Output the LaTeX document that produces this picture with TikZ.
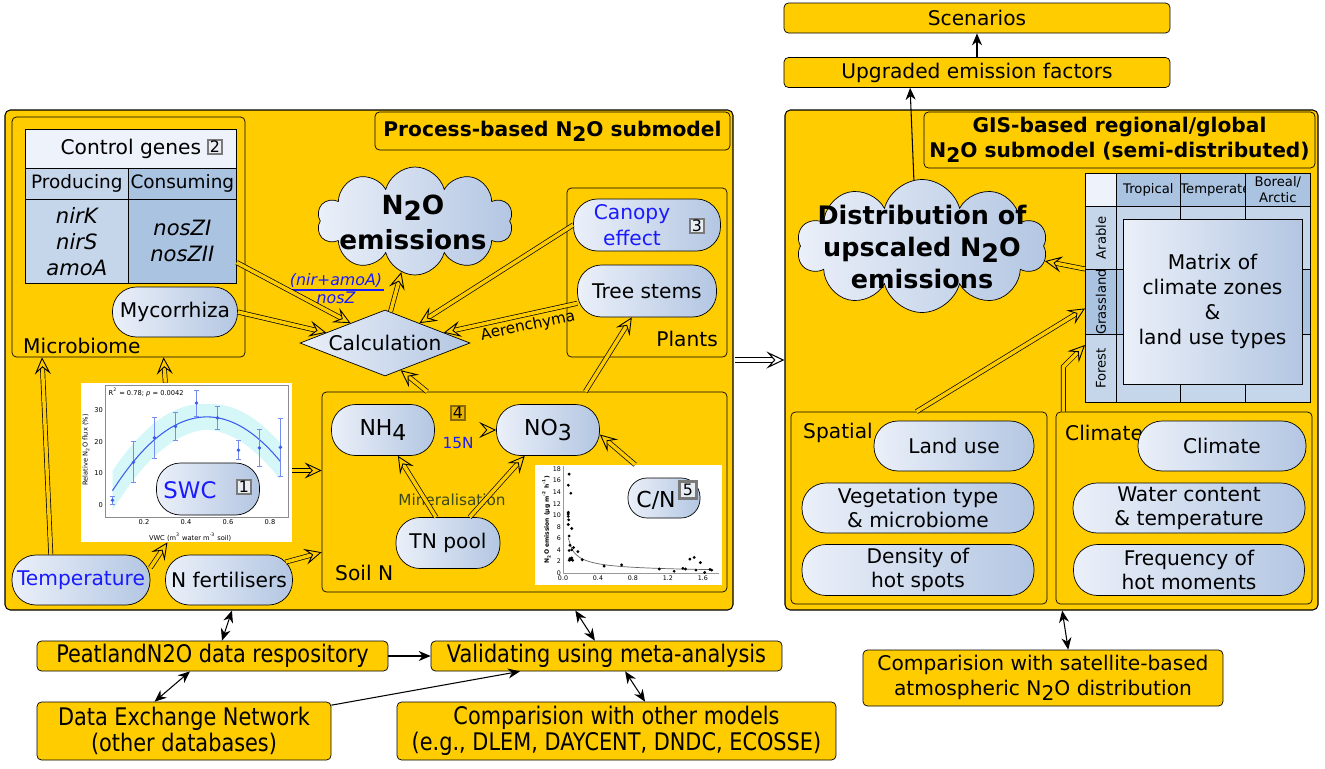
\documentclass[tikz,border=0pt]{standalone}
\usepackage{fontspec}
\setmainfont{DejaVu Sans}
\newfontfamily\condfont[FakeStretch=0.86]{DejaVu Sans}
\usepackage{tikz}
\usetikzlibrary{arrows.meta,positioning,calc,fit,shapes.misc,shapes.geometric,shapes.symbols}

\definecolor{panelyellow}{HTML}{FFCC00}
\definecolor{pilllight}{HTML}{EBF0F9}
\definecolor{pilldark}{HTML}{B3C6E2}
\definecolor{celllight}{HTML}{C5D6EB}
\definecolor{celldark}{HTML}{A9C3E0}
\definecolor{cellpale}{HTML}{EEF3FB}
\definecolor{labelblue}{HTML}{1A1AFF}
\definecolor{badgegrey}{HTML}{7A7A7A}
\definecolor{badgefill}{HTML}{E8EDF4}
\definecolor{badgegold}{HTML}{8A6A10}
\definecolor{badgeyellow}{HTML}{E8B400}
\definecolor{plotblue}{HTML}{3B5BEE}
\definecolor{plotband}{HTML}{D6F7F7}
\definecolor{mineralgreen}{HTML}{3A4A1A}

\newcommand{\lowsub}[1]{\raisebox{-0.45ex}{#1}}
\newcommand{\fsz}[2]{\fontsize{#1}{#2}\selectfont}

\begin{document}
\begin{tikzpicture}[
  x=0.02cm,y=-0.02cm,
  every node/.style={font=\fsz{11.5}{13.6}},
  panel/.style={draw,fill=panelyellow,rounded corners=3pt,inner sep=0pt,semithick},
  framebox/.style={draw,fill=panelyellow,rounded corners=2.5pt,inner sep=0pt},
  topbox/.style={draw,fill=panelyellow,rounded corners=2.5pt,inner sep=0pt,
                 minimum width=7.72cm,minimum height=0.6cm},
  bottombox/.style={draw,fill=panelyellow,rounded corners=2.5pt,inner sep=0pt,
                    align=center,font=\condfont\fsz{13.8}{15}},
  pill/.style={draw,rectangle,rounded corners=0.48cm,left color=pilllight,
               right color=pilldark,minimum height=1cm,inner sep=1pt,align=center},
  puff/.style={draw,cloud,cloud puffs=10,cloud ignores aspect,left color=pilllight,
               right color=pilldark,inner sep=0pt},
  cell/.style={draw,inner sep=0pt,anchor=north west,align=center},
  badge/.style={draw=badgegrey,line width=1.3pt,fill=badgefill,inner sep=0pt,
                minimum size=0.27cm,font=\fsz{9}{10}},
  smalltext/.style={font=\fsz{8.7}{10},inner sep=1pt},
  flow/.style={double=panelyellow,double distance=2pt,thin,
               -{Stealth[length=3.4mm,width=3.2mm,inset=1.4mm,fill=panelyellow,line width=0.5pt]}},
  whiteflow/.style={double=white,double distance=2.2pt,line width=0.6pt,
               -{Stealth[length=3.6mm,width=3.4mm,inset=1.5mm,fill=white,line width=0.6pt]}},
  link/.style={semithick,-{Stealth[length=2.4mm,width=2mm]}},
  twolink/.style={semithick,{Stealth[length=2.4mm,width=2mm]}-{Stealth[length=2.4mm,width=2mm]}}
]
\useasboundingbox (0,0) rectangle (1325,768);

% Top: outputs
\node[topbox] (scenarios) at (977,18) {Scenarios};
\node[topbox] (upgraded) at (977,72.5) {Upgraded emission factors};

% Left panel: process-based submodel
\node[panel,fit={(5,110) (733,610)}] (procbox) {};
\node[framebox,minimum width=7.1cm,minimum height=0.76cm,font=\bfseries\fsz{11.5}{13.6}]
  (proctitle) at (552.5,131) {Process-based N\lowsub{2}O submodel};

% Microbiome and control genes
\node[framebox,fit={(12,117) (245,357)}] (microbox) {};
\node[anchor=west] (microlabel) at (17,346) {Microbiome};
\node[cell,fill=cellpale,minimum width=4.22cm,minimum height=0.78cm] (genehead) at (25,129) {Control genes};
\node[badge] (badgetwo) at (215,147) {2};
\node[cell,fill=celllight,minimum width=2.06cm,minimum height=0.62cm,font=\fsz{10.5}{12}]
  (producehead) at (25,168) {Producing};
\node[cell,fill=celldark,minimum width=2.16cm,minimum height=0.62cm,font=\fsz{10.5}{12}]
  (consumehead) at (128,168) {Consuming};
\node[cell,fill=celllight,minimum width=2.06cm,minimum height=1.68cm,font=\itshape\fsz{12}{14.7}]
  (producecell) at (25,199) {nirK\\nirS\\amoA};
\node[cell,fill=celldark,minimum width=2.16cm,minimum height=1.68cm,font=\itshape\fsz{12}{14.7}]
  (consumecell) at (128,199) {nosZI\\nosZII};
\node[pill,minimum width=2.5cm] (myco) at (175,312) {Mycorrhiza};

% Emissions and calculation
\node[puff,minimum width=3.92cm,minimum height=2.16cm] (n2o) at (415,221) {};
\node[align=center,font=\bfseries\fsz{15}{20}] (n2otext) at (413,222) {N\lowsub{2}O\\emissions};
\node[draw,diamond,aspect=2.6,inner sep=0pt,left color=pilllight,right color=pilldark,
      minimum width=3.4cm,minimum height=1.32cm] (calculation) at (385,343) {Calculation};
\node[font=\itshape\fsz{9}{10},text=labelblue,inner sep=1pt] (rationum) at (336,281) {(nir+amoA)};
\node[font=\itshape\fsz{9}{10},text=labelblue,inner sep=1pt] (ratioden) at (336,298) {nosZ};
\draw[labelblue,thick] (rationum.south west) -- (rationum.south east);

% Plants
\node[framebox,fit={(567,188) (727,357)}] (plantsbox) {};
\node[anchor=east] (plantslabel) at (724,339) {Plants};
\node[pill,minimum width=2.94cm,minimum height=1.04cm] (canopy) at (647,225) {};
\node[align=center,text=labelblue,font=\fsz{11.5}{14.5}] (canopytext) at (632,225) {Canopy\\effect};
\node[badge] (badgethree) at (697,226) {3};
\node[pill,minimum width=2.78cm,minimum height=1.04cm] (treestems) at (647,291) {Tree stems};
\node[rotate=12,smalltext] (aerlabel) at (528,326) {Aerenchyma};

% SWC response curve
\node[fill=white,inner sep=0pt,fit={(81,383) (292,542)}] (swcplot) {};
\begin{scope}[shift={(102,505)},x=4.2cm,y=0.0634cm]
  \fill[plotband] plot[domain=0.05:0.85,samples=30,smooth]
      (\x,{27.8-115*(\x-0.5)*(\x-0.5)+4+5*abs(\x-0.5)})
    -- plot[domain=0.85:0.05,samples=30,smooth]
      (\x,{27.8-115*(\x-0.5)*(\x-0.5)-4-5*abs(\x-0.5)}) -- cycle;
  \draw[black!45,very thin] (0.014,-3.8) rectangle (0.886,37.9);
  \foreach \ty in {0,10,20,30}
    \node[anchor=east,font=\fsz{3.8}{4.5},inner sep=1pt] at (0.014,\ty) {\ty};
  \foreach \tx in {0.2,0.4,0.6,0.8}
    \node[anchor=north,font=\fsz{3.8}{4.5},inner sep=1.5pt] at (\tx,-3.8) {\tx};
  \draw[plotblue,semithick] plot[domain=0.05:0.85,samples=30,smooth]
      (\x,{27.8-115*(\x-0.5)*(\x-0.5)});
  \foreach \vx/\vy/\ve in {0.05/1.5/1.2,0.15/13.5/6.5,0.25/21.2/6.5,0.35/24.8/4.3,
      0.45/32.2/4.1,0.55/27.5/3.6,0.65/17.3/3,0.75/18/5.8,0.85/18.2/9}{
    \draw[plotblue!70] (\vx,\vy-\ve) -- (\vx,\vy+\ve)
      (\vx-0.012,\vy-\ve) -- (\vx+0.012,\vy-\ve)
      (\vx-0.012,\vy+\ve) -- (\vx+0.012,\vy+\ve);
    \fill[plotblue] (\vx,\vy) circle (1.1pt);
  }
  \node[anchor=west,font=\fsz{3.8}{4.5},inner sep=0pt] at (0.03,35.5)
    {R\textsuperscript{2} = 0.78; \textit{p} = 0.0042};
  \node[rotate=90,font=\fsz{3.8}{4.5}] at (-0.076,17.4) {Relative N\textsubscript{2}O flux (\%)};
  \node[font=\fsz{3.8}{4.5}] at (0.42,-10.1) {VWC (m\textsuperscript{3} water m\textsuperscript{-3} soil)};
\end{scope}
\node[pill,minimum width=2.06cm,minimum height=1.04cm] (swc) at (208,489) {};
\node[text=labelblue,font=\fsz{13}{15}] (swctext) at (190,490) {SWC};
\node[badge] (badgeone) at (244,487) {1};

% Drivers
\node[pill,minimum width=2.76cm,text=labelblue] (temperature) at (81,580) {Temperature};
\node[pill,minimum width=2.54cm] (nfert) at (229,580) {N fertilisers};

% Soil N
\node[framebox,fit={(322,392) (727,592)}] (soilbox) {};
\node[anchor=west] (soillabel) at (329,573) {Soil N};
\node[pill,minimum width=2.06cm,minimum height=1.02cm,font=\fsz{12.5}{14}] (nh4) at (383,430) {NH\lowsub{4}};
\node[pill,minimum width=2.06cm,minimum height=1.02cm,font=\fsz{12.5}{14}] (no3) at (548,430) {NO\lowsub{3}};
\node[badge,draw=badgegold,fill=badgeyellow] (badgefour) at (458,413) {4};
\node[smalltext,text=labelblue] (fifteenn) at (458,443) {15N};
\node[pill,minimum width=2.08cm,minimum height=1.02cm] (tnpool) at (448,543) {TN pool};
\node[smalltext,text=mineralgreen] (minerallabel) at (452,500) {Mineralisation};

% C/N scatter
\node[fill=white,inner sep=0pt,fit={(535,465) (722,585)}] (cnplot) {};
\begin{scope}[shift={(563,573)},x=1.75cm,y=0.1156cm]
  \draw[black!40,very thin] (1.78,0) -- (0,0) -- (0,18.6);
  \foreach \ty in {0,2,...,18}
    \node[anchor=east,font=\fsz{3.6}{4},inner sep=1pt] at (0,\ty) {\ty};
  \foreach \tx in {0.0,0.4,0.8,1.2,1.6}
    \node[anchor=north,font=\fsz{3.6}{4},inner sep=1.5pt] at (\tx,0) {\tx};
  \draw[black!60] plot[domain=0.06:1.7,samples=50,smooth] (\x,{0.85*pow(\x,-0.7)});
  \foreach \sx/\sy in {0.07/17.1,0.06/15.2,0.09/13.8,0.06/10.5,0.06/10.2,0.06/9.8,
      0.065/9.2,0.06/8.4,0.1/7.7,0.07/6.4,0.08/4.8,0.07/3.9,0.1/4,0.12/4.4,0.17/3.7,
      0.08/2.5,0.09/2.3,0.07/2.2,0.1/2.6,0.11/2.2,0.22/2.3,0.47/1.2,0.67/1.4,1.1/0.7,
      1.27/0.3,1.37/0.8,1.4/0.7,1.45/2.4,1.5/2.7,1.52/0.5,1.57/1.8,1.62/0.1,1.68/0.6,1.7/0.5}
    \fill (\sx,\sy) circle (0.9pt);
  \node[rotate=90,font=\bfseries\fsz{3.4}{4}] at (-0.19,9.2)
    {N\textsubscript{2}O emission (μg m\textsuperscript{-2} h\textsuperscript{-1})};
\end{scope}
\node[pill,rounded corners=0.38cm,minimum width=1.44cm,minimum height=0.8cm] (cnratio) at (664,498) {};
\node[font=\fsz{12.5}{14}] (cntext) at (656,500) {C/N};
\node[badge,minimum size=0.34cm] (badgefive) at (688,490) {5};

% Right panel: GIS-based submodel
\node[panel,fit={(785,110) (1318,610)}] (gisbox) {};
\node[framebox,minimum width=7.82cm,minimum height=1.12cm,align=center,font=\bfseries\fsz{11.5}{14}]
  (gistitle) at (1119.5,140) {GIS-based regional/global\\N\lowsub{2}O submodel (semi-distributed)};
\node[puff,minimum width=5cm,minimum height=2.66cm] (distcloud) at (922,246) {};
\node[align=center,font=\bfseries\fsz{14.5}{18}] (disttext) at (922,247)
  {Distribution of\\upscaled N\lowsub{2}O\\emissions};

% Matrix of climate zones and land use types
\node[cell,fill=cellpale,minimum width=0.62cm,minimum height=0.66cm] (cornercell) at (1085,173) {};
\node[cell,fill=celldark,minimum width=1.28cm,minimum height=0.66cm,font=\fsz{7.5}{9}] (tropcell) at (1116,173) {Tropical};
\node[cell,fill=celldark,minimum width=1.3cm,minimum height=0.66cm,font=\fsz{7.5}{9}] (tempcell) at (1180,173) {Temperate};
\node[cell,fill=celldark,minimum width=1.3cm,minimum height=0.66cm,font=\fsz{7.5}{9}] (borealcell) at (1245,173) {Boreal/\\Arctic};
\node[cell,fill=celllight,minimum width=0.62cm,minimum height=1.26cm] (arablecell) at (1085,206) {};
\node[cell,fill=celldark,minimum width=0.62cm,minimum height=1.3cm] (grasscell) at (1085,269) {};
\node[cell,fill=celllight,minimum width=0.62cm,minimum height=1.36cm] (forestcell) at (1085,334) {};
\node[rotate=90,font=\fsz{7.5}{9}] at (arablecell.center) {Arable};
\node[rotate=90,font=\fsz{7.5}{9}] at (grasscell.center) {Grassland};
\node[rotate=90,font=\fsz{7.5}{9}] at (forestcell.center) {Forest};
\foreach \ry/\rh/\rfill in {206/1.26/celllight,269/1.3/celldark,334/1.36/celllight}
  \foreach \cx/\cw in {1116/1.28,1180/1.3,1245/1.3}
    \node[cell,fill=\rfill,minimum width=\cw cm,minimum height=\rh cm] at (\cx,\ry) {};
\node[draw,left color=pilllight,right color=pilldark,inner sep=0pt,
      fit={(1123,219) (1302,384)}] (matrixbox) {};
\node[align=center,font=\fsz{11.5}{14.3}] (matrixtext) at (matrixbox.center)
  {Matrix of\\climate zones\\\&\\land use types};

% Spatial and climate inputs
\node[framebox,fit={(791,412) (1047,604)}] (spatialbox) {};
\node[anchor=west] (spatiallabel) at (797,433) {Spatial};
\node[pill,minimum width=3.2cm] (landuse) at (954,446) {Land use};
\node[pill,minimum width=4.64cm] (vegetation) at (918,508) {Vegetation type\\\& microbiome};
\node[pill,minimum width=4.64cm,minimum height=1.02cm] (density) at (918,570) {Density of\\hot spots};
\node[framebox,fit={(1056,412) (1312,604)}] (climatebox) {};
\node[anchor=west] (climatelabel) at (1059,433) {Climate};
\node[pill,minimum width=3.36cm] (climatepill) at (1222,446) {Climate};
\node[pill,minimum width=4.64cm] (water) at (1189,508) {Water content\\\& temperature};
\node[pill,minimum width=4.62cm,minimum height=1.02cm] (frequency) at (1189,570) {Frequency of\\hot moments};

% Bottom: data and validation
\node[bottombox,minimum width=7.02cm,minimum height=0.6cm] (peat) at (212.5,656) {PeatlandN2O data respository};
\node[bottombox,minimum width=7.02cm,minimum height=0.6cm] (valid) at (606.5,656) {Validating using meta-analysis};
\node[bottombox,minimum width=5.88cm,minimum height=1.16cm] (dexnet) at (184,731) {Data Exchange Network\\(other databases)};
\node[bottombox,minimum width=8.78cm,minimum height=1.16cm] (compmodels) at (616.5,731)
  {Comparision with other models\\(e.g., DLEM, DAYCENT, DNDC, ECOSSE)};
\node[framebox,minimum width=7.2cm,minimum height=1.12cm,align=center,font=\fsz{11.5}{14}]
  (satellite) at (1043,678) {Comparision with satellite-based\\atmospheric N\lowsub{2}O distribution};

% Flows inside the process-based panel
\draw[flow] ($(consumecell.north east)!0.75!(consumecell.south east)$) -- (calculation.150);
\draw[flow] (myco.east) -- (calculation.170);
\draw[flow] (canopy.west) -- (calculation.30);
\draw[flow] (treestems.190) -- (calculation.10);
\draw[flow] (calculation.80) -- (n2o.255);
\draw[flow] ($(soilbox.north west)!0.26!(soilbox.north east)$) -- (calculation.300);
\draw[flow] ($(soilbox.north west)!0.65!(soilbox.north east)$) -- (treestems.240);
\draw[flow] ($(swcplot.north west)!0.4!(swcplot.north east)$) -- ($(microbox.south west)!0.65!(microbox.south east)$);
\draw[flow] (temperature.140) -- ($(microbox.south west)!0.13!(microbox.south east)$);
\draw[flow] (temperature.10) -- ($(swcplot.south west)!0.41!(swcplot.south east)$);
\coordinate (swcout) at ($(swcplot.south east)!0.45!(swcplot.north east)$);
\draw[flow] (swcout) -- (swcout -| soilbox.west);
\draw[flow] ($(nfert.east)+(-7,-18)$) -- ($(soilbox.south west)!0.2!(soilbox.north west)$);
\draw[flow] (nh4) -- (no3);
\draw[flow] (tnpool.115) -- (nh4.300);
\draw[flow] (tnpool.50) -- (no3.228);
\draw[flow] ($(cnplot.north west)!0.535!(cnplot.north east)$) -- (no3.355);

% Flows into and inside the GIS panel
\coordinate (handover) at ($(procbox.east)+(1,0)$);
\draw[whiteflow] (handover) -- (handover -| gisbox.west);
\draw[flow] (grasscell.north west) -- (distcloud.353);
\draw[flow] ($(spatialbox.north west)!0.49!(spatialbox.north east)$) -- ($(grasscell.north west)!0.6!(grasscell.south west)$);
\draw[flow] ($(climatebox.north west)!0.03!(climatebox.north east)$) -- ++(0,-45)
  -- ($(forestcell.north west)!0.16!(forestcell.south west)$);

% Links
\draw[link] (distcloud.97) -- ($(upgraded.south west)!0.327!(upgraded.south east)$);
\draw[link] (upgraded) -- (scenarios);
\draw[twolink] ($(procbox.south west)!0.312!(procbox.south east)$) -- ($(peat.north west)!0.527!(peat.north east)$);
\draw[link] (peat) -- (valid);
\draw[twolink] ($(dexnet.north west)!0.4!(dexnet.north east)$) -- ($(peat.south west)!0.436!(peat.south east)$);
\draw[link] ($(dexnet.north east)!0.06!(dexnet.south east)$) -- ($(valid.south west)!0.254!(valid.south east)$);
\draw[twolink] ($(procbox.south west)!0.783!(procbox.south east)$) -- ($(valid.north west)!0.467!(valid.north east)$);
\draw[twolink] ($(valid.south west)!0.553!(valid.south east)$) -- ($(compmodels.north west)!0.565!(compmodels.north east)$);
\draw[twolink] ($(gisbox.south west)!0.52!(gisbox.south east)$) -- ($(satellite.north west)!0.57!(satellite.north east)$);
\end{tikzpicture}
\end{document}
